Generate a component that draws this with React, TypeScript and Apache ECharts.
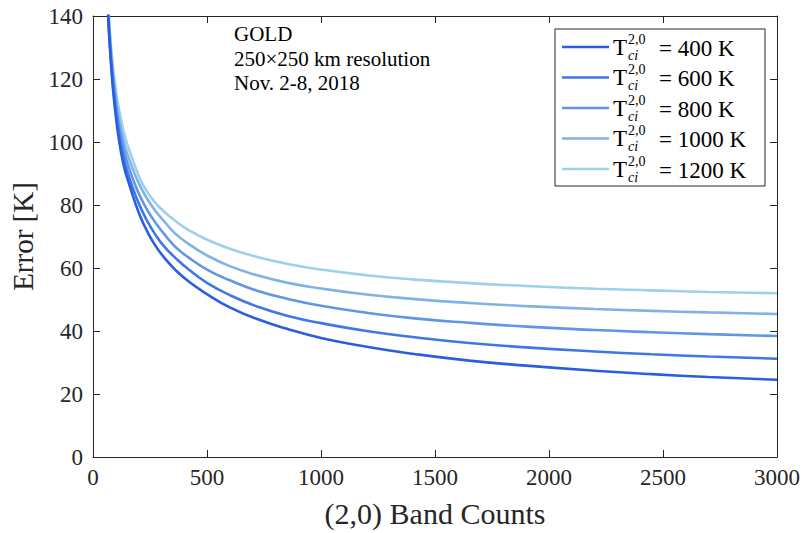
import React, { useEffect, useRef } from "react";
import * as echarts from "echarts";

const counts = [60, 67, 75, 85, 95, 110, 125, 140, 160, 180, 205, 235, 270, 310, 360, 420, 500, 600, 720, 860, 1000, 1200, 1400, 1650, 1900, 2200, 2450, 2700, 3000];

const err400 = [152, 139, 129, 119, 111.5, 102.5, 96, 91, 86.3, 81.8, 76.8, 72, 67.5, 63.5, 59.5, 55.7, 51.7, 47.5, 43.8, 40.5, 37.8, 35.0, 32.8, 30.6, 29.0, 27.4, 26.3, 25.4, 24.5];
const err600 = [153, 140, 130, 120.5, 113, 104.5, 98.2, 93.3, 88.5, 84.3, 79.8, 75.3, 71, 67, 63.3, 59.5, 55.3, 51.4, 47.8, 44.7, 42.5, 40.0, 38.1, 36.2, 34.8, 33.5, 32.6, 31.9, 31.2];
const err800 = [154, 141, 131.3, 122, 115, 106.8, 100.7, 96, 91.3, 87.3, 83, 78.8, 74.8, 71, 66.8, 63.3, 59.5, 56.1, 52.8, 50.1, 48.0, 45.8, 44.1, 42.6, 41.4, 40.3, 39.6, 39.0, 38.4];
const err1000 = [155, 142, 132.5, 123.5, 117, 109, 103.2, 98.7, 94.2, 90.4, 86.3, 82.3, 78.5, 75, 71, 67.6, 64, 60.6, 57.7, 55.2, 53.5, 51.6, 50.2, 48.9, 47.9, 47.0, 46.4, 45.9, 45.4];
const err1200 = [156, 143, 134, 125.5, 119.5, 112, 106.5, 101.8, 97.2, 93.2, 88.5, 84.5, 81, 78, 75, 72, 69.0, 66.1, 63.5, 61.2, 59.5, 57.7, 56.4, 55.2, 54.3, 53.4, 52.9, 52.4, 52.0];

const tempLabels = ["400", "600", "800", "1000", "1200"];
const seriesValues = [err400, err600, err800, err1000, err1200];
const colors = ["#285fe1", "#3f78e6", "#6195e6", "#80b2e7", "#9dd0ea"];

const annotation = ["GOLD", "250×250 km resolution", "Nov. 2-8, 2018"];

const xTitle = "(2,0) Band Counts";
const yTitle = "Error [K]";

const FONT = "'Liberation Serif', 'Times New Roman', serif";
const AX = "#262626";

export default function App() {
  const ref = useRef<HTMLDivElement>(null);
  useEffect(() => {
    document.body.style.margin = "0";
    if (!ref.current) return;
    const chart = echarts.init(ref.current, undefined, { renderer: "svg" });

    const series = seriesValues.map((vals, i) => ({
      name: `T_ci^{2,0} = ${tempLabels[i]} K`,
      type: "line",
      data: counts.map((c, j) => [c, vals[j]]),
      showSymbol: false,
      smooth: 0.5,
      clip: true,
      lineStyle: { color: colors[i], width: 2.6 },
      itemStyle: { color: colors[i] },
      z: 10 - i,
    }));

    const legendElems: any[] = [
      {
        type: "rect",
        shape: { x: 555, y: 29, width: 210, height: 157 },
        style: { fill: "#fff", stroke: AX, lineWidth: 1 },
        z: 100,
      },
    ];
    tempLabels.forEach((t, i) => {
      const y = 47 + 30.5 * i;
      legendElems.push(
        {
          type: "line",
          shape: { x1: 562, y1: y, x2: 609, y2: y },
          style: { stroke: colors[i], lineWidth: 2.6 },
          z: 101,
        },
        {
          type: "text",
          x: 613,
          y: y,
          style: { text: "T", fontFamily: FONT, fontSize: 23, fill: "#000", verticalAlign: "middle" },
          z: 101,
        },
        {
          type: "text",
          x: 628,
          y: y - 8,
          style: { text: "2,0", fontFamily: FONT, fontSize: 14, fill: "#000", verticalAlign: "middle" },
          z: 101,
        },
        {
          type: "text",
          x: 628,
          y: y + 8,
          style: { text: "ci", fontFamily: FONT, fontSize: 14, fontStyle: "italic", fill: "#000", verticalAlign: "middle" },
          z: 101,
        },
        {
          type: "text",
          x: 659,
          y: y + 1,
          style: { text: `= ${t} K`, fontFamily: FONT, fontSize: 23, fill: "#000", verticalAlign: "middle" },
          z: 101,
        }
      );
    });

    const annoElems = annotation.map((s, i) => ({
      type: "text",
      x: 234,
      y: 34 + 24.5 * i,
      style: { text: s, fontFamily: FONT, fontSize: 21, fill: "#000", verticalAlign: "middle" },
      z: 50,
    }));

    const axisCommon = {
      axisLine: { show: true, onZero: false, lineStyle: { color: AX, width: 1 } },
      axisTick: { show: true, inside: true, length: 7, lineStyle: { color: AX, width: 1 } },
      splitLine: { show: false },
    };
    const tickLabel = {
      fontFamily: FONT,
      fontSize: 23,
      color: AX,
      formatter: (v: number) => `{t|${v}}`,
      rich: { t: { fontFamily: FONT, fontSize: 23, color: AX } },
    };

    chart.setOption({
      animation: false,
      backgroundColor: "#fff",
      textStyle: { fontFamily: FONT },
      grid: { left: 93, right: 27, top: 16, bottom: 73, containLabel: false },
      xAxis: [
        {
          type: "value",
          min: 0,
          max: 3000,
          interval: 500,
          position: "bottom",
          ...axisCommon,
          axisLabel: { ...tickLabel, margin: 9 },
          name: xTitle,
          nameLocation: "middle",
          nameGap: 41,
          nameTextStyle: { fontFamily: FONT, fontSize: 30, color: AX },
        },
        {
          type: "value",
          min: 0,
          max: 3000,
          interval: 500,
          position: "top",
          ...axisCommon,
          axisLabel: { show: false },
        },
      ],
      yAxis: [
        {
          type: "value",
          min: 0,
          max: 140,
          interval: 20,
          position: "left",
          ...axisCommon,
          axisLabel: { ...tickLabel, margin: 10 },
          name: yTitle,
          nameLocation: "middle",
          nameGap: 54,
          nameTextStyle: { fontFamily: FONT, fontSize: 29, color: AX },
        },
        {
          type: "value",
          min: 0,
          max: 140,
          interval: 20,
          position: "right",
          ...axisCommon,
          axisLabel: { show: false },
        },
      ],
      series,
      graphic: [...annoElems, ...legendElems],
    });
    return () => chart.dispose();
  }, []);
  return <div ref={ref} style={{ width: 804, height: 533 }} />;
}
